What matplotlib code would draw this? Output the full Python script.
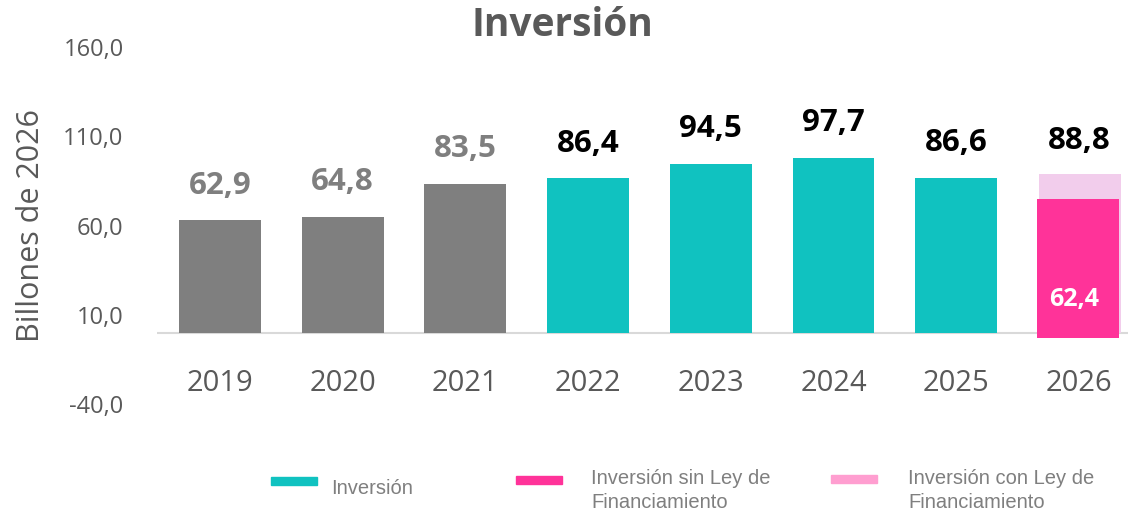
import matplotlib
matplotlib.use("Agg")
import matplotlib.pyplot as plt
from matplotlib.patches import Rectangle

years = ["2019", "2020", "2021", "2022", "2023", "2024", "2025", "2026"]
hist_vals = [62.9, 64.8, 83.5]            # gray bars 2019-2021
inv_vals = [86.4, 94.5, 97.7, 86.6]       # teal bars 2022-2025
con_ley_total = 88.8                      # 2026 light pink (con Ley)
sin_ley_label = 62.4                      # 2026 label inside dark pink
sin_ley_bottom = -2.9                     # dark pink bar as drawn
sin_ley_top = 74.8
yticks = [-40, 10, 60, 110, 160]
ytick_labels = ["-40,0", "10,0", "60,0", "110,0", "160,0"]

GRAY = "#7F7F7F"
TEAL = "#10C2C0"
PINK = "#FF3399"
LPINK_BAR = "#F2CDEC"
LPINK_LEG = "#FF9ED0"
TXT = "#595959"

plt.rcParams["font.family"] = ["Open Sans", "DejaVu Sans"]

W, H = 1128, 517
fig = plt.figure(figsize=(W / 100, H / 100), dpi=100)
ax = fig.add_axes([157 / W, 1 - 404 / H, (1128 - 157) / W, (404 - 47) / H])
ax.set_xlim(-0.513, 7.40)
ax.set_ylim(-40, 160)
for s in ax.spines.values():
    s.set_visible(False)
ax.set_xticks([])
ax.set_yticks(yticks)
ax.set_yticklabels(ytick_labels, fontsize=17, color=TXT)
ax.tick_params(axis="y", length=0, pad=24)
ax.set_ylabel("Billones de 2026", fontsize=22, color=TXT)
ax.yaxis.set_label_coords(-0.1140, 0.5)
ax.axhline(0, color="#D9D9D9", lw=1.5, zorder=1)

bw = 0.668
x_hist = list(range(0, 3))
x_inv = list(range(3, 7))
x26 = 7

ax.bar(x_hist, hist_vals, width=bw, color=GRAY, zorder=2)
ax.bar(x_inv, inv_vals, width=bw, color=TEAL, zorder=2)
ax.bar([x26 + 0.005], [con_ley_total], width=bw, color=LPINK_BAR, zorder=2)
ax.bar([x26 - 0.007], [sin_ley_top - sin_ley_bottom], bottom=[sin_ley_bottom],
       width=bw, color=PINK, zorder=3)

def fmt(v):
    return f"{v:.1f}".replace(".", ",")

for x, v in zip(x_hist, hist_vals):
    ax.annotate(fmt(v), (x, v), xytext=(0, 25), textcoords="offset points",
                ha="center", va="center", fontsize=22.5, fontweight="bold", color=GRAY)
for x, v in zip(x_inv, inv_vals):
    ax.annotate(fmt(v), (x, v), xytext=(0, 25), textcoords="offset points",
                ha="center", va="center", fontsize=22.5, fontweight="bold", color="black")
ax.annotate(fmt(con_ley_total), (x26, con_ley_total), xytext=(0, 24), textcoords="offset points",
            ha="center", va="center", fontsize=22.5, fontweight="bold", color="black")
ax.text(x26 - 0.04, 18.5, fmt(sin_ley_label), ha="center", va="center",
        fontsize=18, fontweight="bold", color="white", zorder=4)

for i, y in enumerate(years):
    ax.text(i, -28.5, y, ha="center", va="center", fontsize=21, color=TXT)

fig.text(562 / W, 1 - 25 / H, "Inversión", ha="center", va="center",
         fontsize=28, fontweight="bold", color=TXT)

# legend
leg_fam = ["Liberation Sans Narrow", "Liberation Sans", "DejaVu Sans"]
items = [
    (271, 477, TEAL, 331, ["Inversión"], [489]),
    (516, 476, PINK, 591, ["Inversión sin Ley de", "Financiamiento"], [479, 503]),
    (831, 475, LPINK_LEG, 908, ["Inversión con Ley de", "Financiamiento"], [479, 503]),
]
for px, py, col, tx, lines, tys in items:
    fig.add_artist(Rectangle((px / W, 1 - (py + 8) / H), 46 / W, 8 / H,
                             transform=fig.transFigure, color=col))
    for line, ty in zip(lines, tys):
        fig.text(tx / W, 1 - ty / H, line, ha="left", va="center",
                 fontsize=14.5, color=GRAY, family=leg_fam)

fig.savefig("out.png", dpi=100)
